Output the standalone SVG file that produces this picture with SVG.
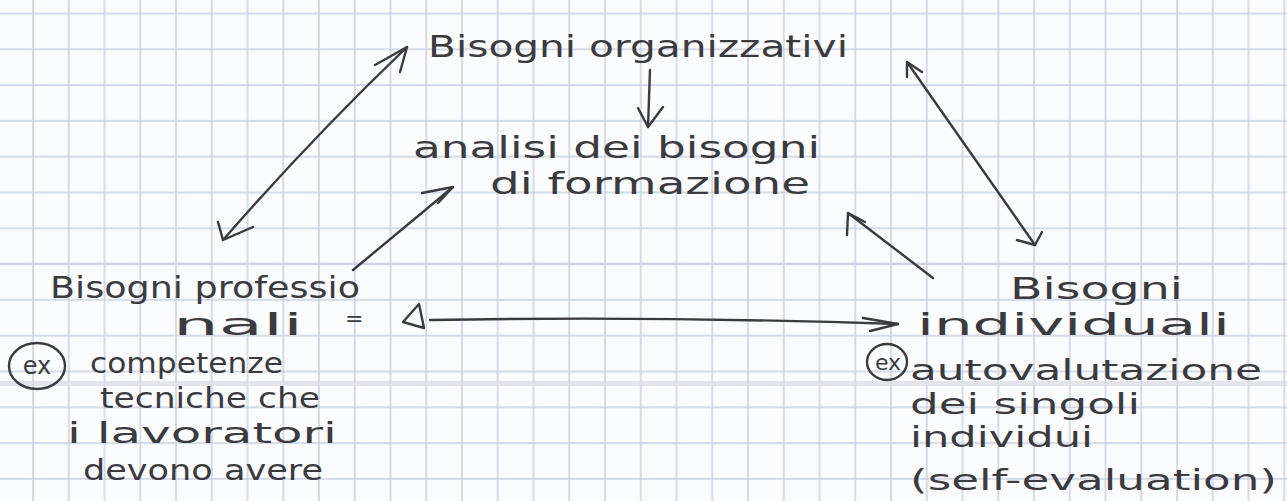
<svg xmlns="http://www.w3.org/2000/svg" width="1287" height="501" viewBox="0 0 1287 501">
  <style>
    .hw { font-family: "DejaVu Sans", "Liberation Sans", sans-serif; fill: #3b3b3f; }
    .big { font-size: 30px; }
    .mid { font-size: 28px; }
    .ink { fill: none; stroke: #3b3b3f; stroke-width: 2.4; stroke-linecap: round; stroke-linejoin: round; }
  </style>
  <defs>
    <pattern id="grid" patternUnits="userSpaceOnUse" x="15.13" y="-4.4" width="35.75" height="35.8">
      <rect x="17.2" y="0" width="1.4" height="35.8" fill="#c4cee0"/>
      <rect x="0" y="17.2" width="35.75" height="1.4" fill="#c4cee0"/>
    </pattern>
  </defs>

  <g id="paper">
    <rect width="1287" height="501" fill="#fbfcfe"/>
    <rect width="1287" height="501" fill="url(#grid)"/>
    <rect x="0" y="262.5" width="1287" height="2.5" fill="#cbced8" opacity="0.6"/>
    <rect x="0" y="381" width="1287" height="5" fill="#d9dbe2" opacity="0.7"/>
  </g>

  <g id="connectors">
    <!-- organizzativi -> analisi -->
    <path class="ink" d="M650,70 L648,127"/>
    <path class="ink" d="M638,108 L648,127 L663,107"/>
    <!-- professionali <-> organizzativi -->
    <path class="ink" d="M223,240 Q310,140 407,47"/>
    <path class="ink" d="M375,65 L407,47 L400,72"/>
    <path class="ink" d="M218,222 L223,240 L253,227"/>
    <!-- professionali -> analisi -->
    <path class="ink" d="M353,270 L453,187"/>
    <path class="ink" d="M422,193 L453,187 L438,203"/>
    <!-- organizzativi <-> individuali -->
    <path class="ink" d="M907,62 L1035,245"/>
    <path class="ink" d="M907,77 L907,62 L922,72"/>
    <path class="ink" d="M1017,240 L1035,245 L1042,232"/>
    <!-- individuali -> analisi -->
    <path class="ink" d="M933,278 L848,213"/>
    <path class="ink" d="M847,235 L848,213 L865,222"/>
    <!-- professionali (delta) <-> individuali -->
    <path class="ink" d="M430,320 Q660,316 898,324"/>
    <path class="ink" d="M863,318 L898,324 L870,331"/>
    <path class="ink" d="M419,304 L403,322 L424,328 Z"/>
    <text class="hw" x="345" y="326" font-size="22">=</text>
  </g>

  <g id="n-organizzativi">
    <text class="hw big" x="428" y="57" textLength="420" lengthAdjust="spacingAndGlyphs">Bisogni organizzativi</text>
  </g>

  <g id="n-analisi">
    <text class="hw big" x="413" y="158" textLength="407" lengthAdjust="spacingAndGlyphs">analisi dei bisogni</text>
    <text class="hw big" x="490" y="194" textLength="320" lengthAdjust="spacingAndGlyphs">di formazione</text>
  </g>

  <g id="n-professionali">
    <text class="hw big" x="50" y="298" textLength="310" lengthAdjust="spacingAndGlyphs">Bisogni professio</text>
    <text class="hw big" x="173" y="335" textLength="130" lengthAdjust="spacingAndGlyphs">nali</text>
    <ellipse class="ink" cx="37" cy="366" rx="28" ry="23"/>
    <text class="hw" x="37" y="374" font-size="24" text-anchor="middle">ex</text>
    <text class="hw mid" x="90" y="373" textLength="193" lengthAdjust="spacingAndGlyphs">competenze</text>
    <text class="hw mid" x="100" y="408" textLength="220" lengthAdjust="spacingAndGlyphs">tecniche che</text>
    <text class="hw mid" x="67" y="443" textLength="270" lengthAdjust="spacingAndGlyphs">i lavoratori</text>
    <text class="hw mid" x="83" y="480" textLength="240" lengthAdjust="spacingAndGlyphs">devono avere</text>
  </g>

  <g id="n-individuali">
    <text class="hw big" x="1010" y="299" textLength="173" lengthAdjust="spacingAndGlyphs">Bisogni</text>
    <text class="hw big" x="917" y="335" textLength="313" lengthAdjust="spacingAndGlyphs">individuali</text>
    <ellipse class="ink" cx="887" cy="362" rx="20" ry="18"/>
    <text class="hw" x="888" y="370" font-size="22" text-anchor="middle">ex</text>
    <text class="hw mid" x="910" y="380" textLength="352" lengthAdjust="spacingAndGlyphs">autovalutazione</text>
    <text class="hw mid" x="910" y="414" textLength="230" lengthAdjust="spacingAndGlyphs">dei singoli</text>
    <text class="hw mid" x="910" y="447" textLength="183" lengthAdjust="spacingAndGlyphs">individui</text>
    <text class="hw mid" x="910" y="490" textLength="367" lengthAdjust="spacingAndGlyphs">(self-evaluation)</text>
  </g>
</svg>
